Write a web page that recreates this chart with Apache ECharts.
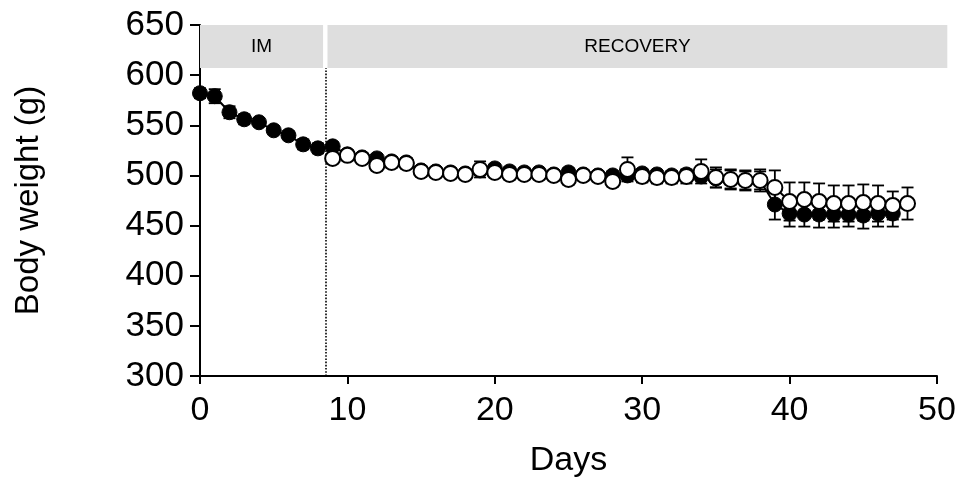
<!DOCTYPE html>
<html>
<head>
<meta charset="utf-8">
<script src="https://cdn.jsdelivr.net/npm/echarts@6/dist/echarts.min.js"></script>
<style>
  html, body { margin: 0; padding: 0; background: #fff; }
  #chart { width: 959px; height: 477px; }
</style>
</head>
<body>
<div id="chart"></div>
<script>
// filled circles: days 0..47
const daysFilled = [0,1,2,3,4,5,6,7,8,9,10,11,12,13,14,15,16,17,18,19,20,21,22,23,24,25,26,27,28,29,30,31,32,33,34,35,36,37,38,39,40,41,42,43,44,45,46,47]
const weightFilled = [582,579,563,556,553,545,540,531,527,529,521,518,517,514,513,505,504,503,502,505,507,504,503,503,501,503,501,500,500,500,502,501,500,501,499,497,496,495,495,471,462,461,461,461,461,460,462,462]
const semFilled = [5,7,6,5,4,4,4,5,5,4,4,4,4,4,4,4,4,4,4,4,4,4,4,4,4,4,4,4,4,4,4,4,4,4,4,9,9,9,9,15,13,12,13,13,12,13,13,13]

// open circles: days 9..48
const daysOpen = [9,10,11,12,13,14,15,16,17,18,19,20,21,22,23,24,25,26,27,28,29,30,31,32,33,34,35,36,37,38,39,40,41,42,43,44,45,46,47,48]
const weightOpen = [517,520,517,510,513,512,504,503,502,501,506,503,501,501,501,500,496,500,499,494,506,499,498,498,499,504,498,496,495,495,488,474,476,474,472,472,473,472,470,472]
const semOpen = [4,4,4,5,5,5,5,4,4,4,8,4,5,4,4,4,5,4,4,5,12,6,6,6,7,12,10,10,10,11,17,19,17,18,18,18,18,18,14,16]

const xTicks = [0, 10, 20, 30, 40, 50]
const phases = [
  { name: 'IM', from: 0, to: 8.35 },
  { name: 'RECOVERY', from: 8.65, to: 50.7 }
]
const phaseLine = 8.55
const bandTop = 650
const bandBottom = 607

const FONT = 'Liberation Sans'

function errData(xs, ys, es) {
  return xs.map((x, i) => [x, ys[i] - es[i], ys[i] + es[i]])
}

function errRender(params, api) {
  const top = api.coord([api.value(0), api.value(2)])
  const bot = api.coord([api.value(0), api.value(1)])
  const w = 6
  const st = { stroke: '#000', lineWidth: 1.8 }
  return {
    type: 'group',
    children: [
      { type: 'line', shape: { x1: top[0], y1: top[1], x2: bot[0], y2: bot[1] }, style: st },
      { type: 'line', shape: { x1: top[0] - w, y1: top[1], x2: top[0] + w, y2: top[1] }, style: st },
      { type: 'line', shape: { x1: bot[0] - w, y1: bot[1], x2: bot[0] + w, y2: bot[1] }, style: st }
    ]
  }
}

const chart = echarts.init(document.getElementById('chart'))
chart.setOption({
  animation: false,
  grid: { left: 200, right: 22, top: 25, bottom: 101, outerBoundsMode: 'none', containLabel: false },
  xAxis: {
    type: 'value', min: 0, max: 50, interval: 10,
    name: 'Days', nameLocation: 'middle', nameGap: 68,
    nameTextStyle: { fontFamily: FONT, fontSize: 34, color: '#000' },
    axisLine: { onZero: false, lineStyle: { color: '#000', width: 2 } },
    axisTick: { length: 8, lineStyle: { color: '#000', width: 2 } },
    axisLabel: { margin: 18, fontFamily: FONT, fontSize: 34, color: '#000',
      formatter: v => xTicks.includes(v) ? String(v) : '' },
    splitLine: { show: false }
  },
  yAxis: {
    type: 'value', min: 300, max: 650, interval: 50,
    name: 'Body weight (g)', nameLocation: 'middle', nameGap: 155,
    nameTextStyle: { fontFamily: FONT, fontSize: 33, color: '#000' },
    axisLine: { lineStyle: { color: '#000', width: 2 } },
    axisTick: { length: 10, lineStyle: { color: '#000', width: 2 } },
    axisLabel: { margin: 16, fontFamily: FONT, fontSize: 35, color: '#000' },
    splitLine: { show: false }
  },
  series: [
    {
      type: 'line', data: [], silent: true,
      markLine: {
        silent: true, symbol: 'none',
        label: { show: false },
        lineStyle: { color: '#000', type: 'dotted', width: 1.6 },
        data: [[{ coord: [phaseLine, 300] }, { coord: [phaseLine, bandBottom] }]]
      }
    },
    {
      type: 'custom', renderItem: errRender, silent: true,
      data: errData(daysFilled, weightFilled, semFilled), z: 2
    },
    {
      type: 'line', data: daysFilled.map((d, i) => [d, weightFilled[i]]),
      symbol: 'circle', symbolSize: 15, showAllSymbol: true,
      itemStyle: { color: '#000', borderColor: '#000', borderWidth: 1 },
      lineStyle: { color: '#000', width: 2 }, z: 3
    },
    {
      type: 'custom', renderItem: errRender, silent: true,
      data: errData(daysOpen, weightOpen, semOpen), z: 4
    },
    {
      type: 'line', data: daysOpen.map((d, i) => [d, weightOpen[i]]),
      symbol: 'circle', symbolSize: 15, showAllSymbol: true,
      itemStyle: { color: '#fff', borderColor: '#000', borderWidth: 2 },
      lineStyle: { color: '#000', width: 2 }, z: 5
    }
  ]
})

// phase bands above the data (the recovery band runs past the axis end)
const bands = []
phases.forEach(p => {
  const a = chart.convertToPixel({ gridIndex: 0 }, [p.from, bandTop])
  const b = chart.convertToPixel({ gridIndex: 0 }, [p.to, bandBottom])
  bands.push({
    type: 'rect', z: 1, silent: true,
    shape: { x: a[0], y: a[1], width: b[0] - a[0], height: b[1] - a[1] },
    style: { fill: '#dedede' }
  })
  bands.push({
    type: 'text', z: 2, silent: true,
    x: (a[0] + b[0]) / 2, y: (a[1] + b[1]) / 2,
    style: { text: p.name, fontFamily: FONT, fontSize: 19, fill: '#000', align: 'center', verticalAlign: 'middle' }
  })
})
chart.setOption({ graphic: bands })
</script>
</body>
</html>
